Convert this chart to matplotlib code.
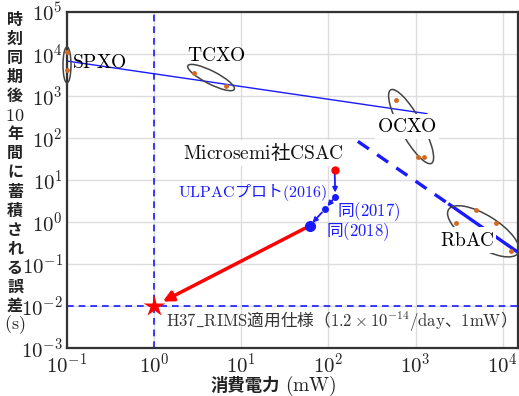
import numpy as np
import matplotlib
matplotlib.use('Agg')
import matplotlib.pyplot as plt
from matplotlib.patches import Ellipse
from matplotlib.transforms import ScaledTranslation
from matplotlib.ticker import FuncFormatter, LogLocator, NullLocator

plt.rcParams['mathtext.fontset'] = 'cm'
plt.rcParams['font.family'] = ['Noto Sans CJK JP', 'DejaVu Sans']

# power consumption (mW) vs accumulated error after 10 years (s)
spxo_power = [0.1, 0.1]
spxo_error = [1.1e4, 4.2e3]
tcxo_power = [2.9, 6.7]
tcxo_error = [3.5e3, 1.7e3]
ocxo_power = [600, 1070, 1250]
ocxo_error = [810, 35, 35]
rbac_power = [2950, 4900, 8300, 12600]
rbac_error = [0.95, 1.95, 0.95, 0.2]

# trend lines
xo_trend_power = [0.1, 1350]
xo_trend_error = [6.8e3, 380]
rbac_trend_power = [218, 2460, 1.5e4]
rbac_trend_error = [83, 2.6, 0.19]

# CSAC and ULPAC prototypes
csac_power = 118
csac_error = 17
ulpac_power = [120, 91, 61]
ulpac_error = [4.0, 2.0, 0.81]

# H37_RIMS requirement
target_power = 1.0
target_error = 1e-2

ylabel_lines = ['時', '刻', '同', '期', '後', r'$\mathrm{10}$', '年', '間', 'に',
                '蓄', '積', 'さ', 'れ', 'る', '誤', '差', r'$\mathrm{(s)}$']

BLUE = '#1a1aff'
ORANGE = '#d2691e'
W, H = 519, 396

fig = plt.figure(figsize=(W / 100, H / 100), dpi=100)
ax = fig.add_axes([67 / W, 1 - 348 / H, 451 / W, 336 / H])
ax.set_xscale('log')
ax.set_yscale('log')
ax.set_xlim(0.1, 1.5e4)
ax.set_ylim(1e-3, 1e5)

fmt = FuncFormatter(lambda v, p: r'$\mathrm{10^{%d}}$' % round(np.log10(v)))
for axis in (ax.xaxis, ax.yaxis):
    axis.set_major_locator(LogLocator(base=10, numticks=12))
    axis.set_minor_locator(NullLocator())
    axis.set_major_formatter(fmt)
ax.tick_params(length=0, labelsize=15, colors='#222222')
ax.tick_params(axis='y', pad=3)
ax.tick_params(axis='x', pad=4)
ax.grid(True, color='#dddddd', lw=1)
ax.set_axisbelow(True)
for sp in ax.spines.values():
    sp.set_color('#333333')
    sp.set_linewidth(1.6)


def ring(x, y, w, h, angle):
    # ellipse sized in pixels, centred on a data point
    tr = fig.dpi_scale_trans + ScaledTranslation(x, y, ax.transData)
    ax.add_patch(Ellipse((0, 0), w / 100, h / 100, angle=angle, transform=tr,
                         fill=False, ec='#444444', lw=1.1, clip_on=False, zorder=3))


# requirement guides
ax.axvline(target_power, color=BLUE, lw=1.2, ls=(0, (4, 3)), zorder=2)
ax.axhline(target_error, color=BLUE, lw=1.2, ls=(0, (4, 3)), zorder=2)

# crystal oscillator trend
ax.plot(xo_trend_power, xo_trend_error, color=BLUE, lw=1, zorder=3)
# atomic clock trend
ax.plot(rbac_trend_power[:2], rbac_trend_error[:2], color=BLUE, lw=2.4,
        ls=(0, (4, 3)), zorder=3)
ax.plot(rbac_trend_power[1:], rbac_trend_error[1:], color=BLUE, lw=2.4, zorder=3)

for px, py in [(spxo_power, spxo_error), (tcxo_power, tcxo_error),
               (ocxo_power, ocxo_error), (rbac_power, rbac_error)]:
    ax.plot(px, py, 'o', color=ORANGE, ms=3.5, mec='none', zorder=4, clip_on=False)

ring(0.1, 5500, 8, 36, 0)
ring(4.5, 2750, 52, 13, -27)
ring(890, 187, 84, 22, -61)
ring(6000, 0.6, 82, 32, -32)

# CSAC -> ULPAC -> requirement
ax.plot(csac_power, csac_error, 'o', color='red', ms=5, zorder=5)
pts = [(csac_power, csac_error)] + list(zip(ulpac_power, ulpac_error))
for (x0, y0), (x1, y1) in zip(pts[:-1], pts[1:]):
    ax.annotate('', xy=(x1, y1), xytext=(x0, y0), zorder=4,
                arrowprops=dict(arrowstyle='-|>', color=BLUE, lw=1.3,
                                mutation_scale=7, shrinkA=3, shrinkB=3))
ax.plot(ulpac_power[:2], ulpac_error[:2], 'o', color=BLUE, ms=4, zorder=5)
ax.plot(ulpac_power[2], ulpac_error[2], 'o', color=BLUE, ms=7, zorder=5)
ax.annotate('', xy=(target_power, target_error), xytext=(ulpac_power[2], ulpac_error[2]),
            zorder=4, arrowprops=dict(arrowstyle='-|>', color='red', lw=2.5,
                                      mutation_scale=15, shrinkA=4, shrinkB=7))
ax.plot(target_power, target_error, '*', color='red', ms=16, mec='none', zorder=6,
        clip_on=False)

# labels
white = dict(fc='white', ec='none', pad=1.5)
ax.text(0.114, 6200, r'$\mathrm{SPXO}$', fontsize=14, ha='left', va='center', zorder=6)
ax.text(5.2, 9100, r'$\mathrm{TCXO}$', fontsize=14, ha='center', va='center', zorder=6)
ax.text(800, 187, r'$\mathrm{OCXO}$', fontsize=14, ha='center', va='center',
        bbox=white, zorder=6)
ax.text(3900, 0.37, r'$\mathrm{RbAC}$', fontsize=14, ha='center', va='center',
        bbox=white, zorder=6)
ax.text(18, 44, r'$\mathrm{Microsemi}$社$\mathrm{CSAC}$', fontsize=14, ha='center',
        va='center', color='#111111', bbox=white, zorder=6)
ax.text(96, 5.1, r'$\mathrm{ULPAC}$プロト$\mathrm{(2016)}$', fontsize=11.5, ha='right',
        va='center', color=BLUE, zorder=6)
ax.text(126, 1.73, r'同$\mathrm{(2017)}$', fontsize=12, ha='left', va='center',
        color=BLUE, zorder=6)
ax.text(93, 0.58, r'同$\mathrm{(2018)}$', fontsize=12, ha='left', va='center',
        color=BLUE, zorder=6)
ax.text(1.37, 4.3e-3,
        r'$\mathrm{H37\_RIMS}$適用仕様（$\mathrm{1.2}\times\mathrm{10^{-14}/day}$、$\mathrm{1mW}$）',
        fontsize=12, ha='left', va='center', color='#333333', zorder=6)

# vertical japanese axis title
for i, s in enumerate(ylabel_lines):
    y = 20 + i * 19.06
    math = s.startswith('$')
    fig.text(15 / W, 1 - y / H, s, fontsize=13 if math else 11.5, fontweight='bold',
             ha='center', va='center', color='#222222')

fig.text(280 / W, 1 - 386 / H, '消費電力', fontsize=12.5, fontweight='bold',
         ha='right', va='center', color='#222222')
fig.text(285 / W, 1 - 386 / H, r'$\mathrm{(mW)}$', fontsize=14, ha='left',
         va='center', color='#222222')

fig.savefig('out.png', dpi=100)
